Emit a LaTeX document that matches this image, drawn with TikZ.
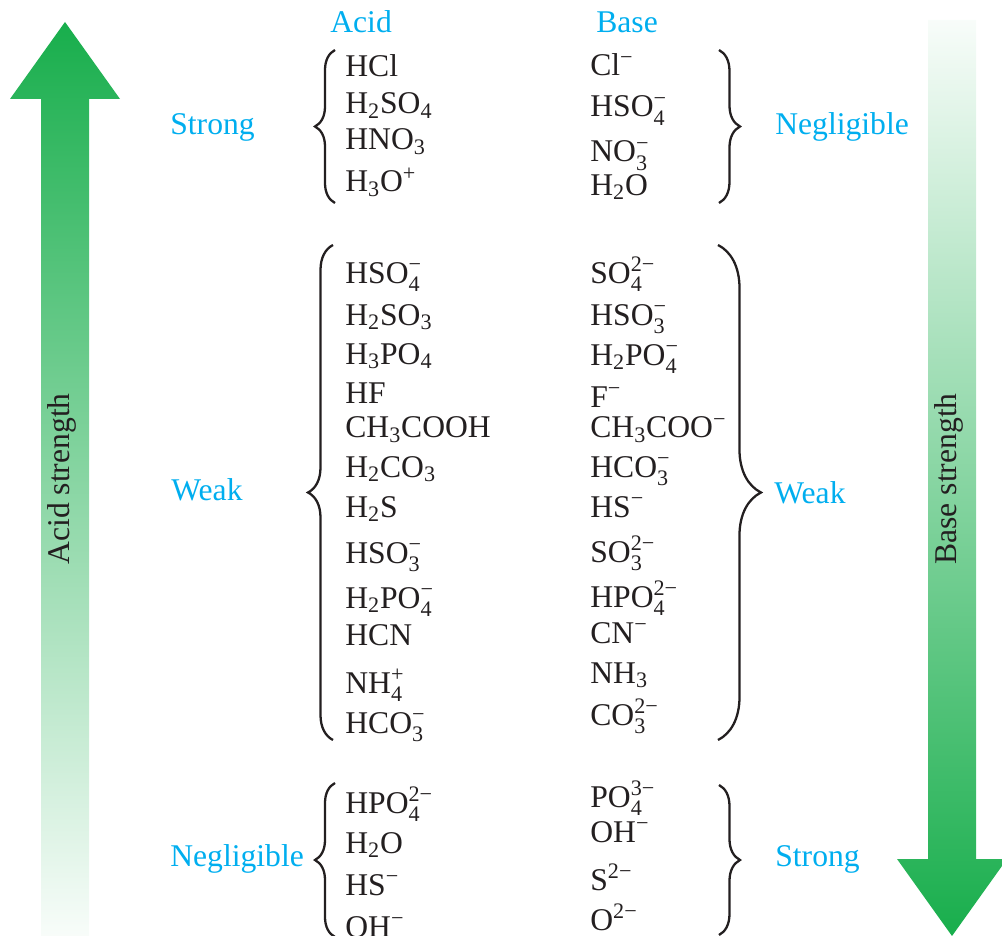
\documentclass[tikz,border=0pt]{standalone}
\usepackage{amsmath}
\usepackage{fontspec}
\setmainfont{Liberation Serif}
\usetikzlibrary{decorations.pathreplacing}

\definecolor{arrowgreen}{RGB}{24,174,76}
\definecolor{labelblue}{RGB}{0,174,239}
\definecolor{ink}{RGB}{35,31,32}

% stacked sub- and superscripts for the formulas
\newcommand\chsub[1]{${}_{\text{#1}}$}
\newcommand\chsup[1]{${}^{\text{#1}}$}
\newcommand\chss[2]{${}_{\text{#1}}^{\text{#2}}$}

\begin{document}
\begin{tikzpicture}[x=0.02cm,y=-0.02cm,
  every node/.style={font=\fontsize{18}{20}\selectfont, inner sep=0pt},
  formula/.style={anchor=base west, text=ink},
  tag/.style={anchor=base west, text=labelblue},
  curly/.style={decorate, decoration={brace, amplitude=#1}, line width=1.3pt, draw=ink}]
\useasboundingbox (0,0) rectangle (1002,936);
% Acid strength arrow, pointing up
\shade[top color=arrowgreen, middle color=arrowgreen!55, bottom color=arrowgreen!3]
  (41,936) -- (41,99) -- (10,99) -- (65,22) -- (120,99) -- (89,99) -- (89,936) -- cycle;
\node[rotate=90, text=ink] (acidstr) at (62,479) {Acid strength};
% Base strength arrow, pointing down
\shade[top color=arrowgreen!3, middle color=arrowgreen!55, bottom color=arrowgreen]
  (928,20) -- (976,20) -- (976,859) -- (1007,859) -- (952,936) -- (897,859) -- (928,859) -- cycle;
\node[rotate=90, text=ink] (basestr) at (949,479) {Base strength};
% Column heads
\node[tag] (acidhead) at (330,33) {Acid};
\node[tag] (basehead) at (596,33) {Base};
% Strong acids and their negligible bases
\node[tag] (strongacid) at (170,135) {Strong};
\node[formula] (sa1) at (345,77) {HCl};
\node[formula] (sa2) at (345,114) {H\chsub{2}SO\chsub{4}};
\node[formula] (sa3) at (345,150) {HNO\chsub{3}};
\node[formula] (sa4) at (345,192) {H\chsub{3}O\chsup{+}};
\node[formula] (nb1) at (590,76) {Cl\chsup{−}};
\node[formula] (nb2) at (590,117) {HSO\chss{4}{−}};
\node[formula] (nb3) at (590,162) {NO\chss{3}{−}};
\node[formula] (nb4) at (590,195) {H\chsub{2}O};
\node[tag] (negbase) at (775,135) {Negligible};
\coordinate (sl1) at (335,203);
\coordinate (sl2) at (335,50);
\coordinate (sr1) at (719,50);
\coordinate (sr2) at (719,203);
\draw[curly=0.4cm] (sl1) -- (sl2);
\draw[curly=0.42cm] (sr1) -- (sr2);
% Weak acids and their weak bases
\node[tag] (weakacid) at (171,500) {Weak};
\node[formula] (wa1) at (345,283) {HSO\chss{4}{−}};
\node[formula] (wa2) at (345,325) {H\chsub{2}SO\chsub{3}};
\node[formula] (wa3) at (345,364) {H\chsub{3}PO\chsub{4}};
\node[formula] (wa4) at (345,403) {HF};
\node[formula] (wa5) at (345,438) {CH\chsub{3}COOH};
\node[formula] (wa6) at (345,477) {H\chsub{2}CO\chsub{3}};
\node[formula] (wa7) at (345,517) {H\chsub{2}S};
\node[formula] (wa8) at (345,563) {HSO\chss{3}{−}};
\node[formula] (wa9) at (345,608) {H\chsub{2}PO\chss{4}{−}};
\node[formula] (wa10) at (345,645) {HCN};
\node[formula] (wa11) at (345,693) {NH\chss{4}{+}};
\node[formula] (wa12) at (345,733) {HCO\chss{3}{−}};
\node[formula] (wb1) at (590,283) {SO\chss{4}{2−}};
\node[formula] (wb2) at (590,325) {HSO\chss{3}{−}};
\node[formula] (wb3) at (590,365) {H\chsub{2}PO\chss{4}{−}};
\node[formula] (wb4) at (590,407) {F\chsup{−}};
\node[formula] (wb5) at (590,438) {CH\chsub{3}COO\chsup{−}};
\node[formula] (wb6) at (590,477) {HCO\chss{3}{−}};
\node[formula] (wb7) at (590,517) {HS\chsup{−}};
\node[formula] (wb8) at (590,562) {SO\chss{3}{2−}};
\node[formula] (wb9) at (590,607) {HPO\chss{4}{2−}};
\node[formula] (wb10) at (590,643) {CN\chsup{−}};
\node[formula] (wb11) at (590,683) {NH\chsub{3}};
\node[formula] (wb12) at (590,725) {CO\chss{3}{2−}};
\node[tag] (weakbase) at (774,503) {Weak};
\coordinate (wl1) at (333,740);
\coordinate (wl2) at (333,245);
\coordinate (wr1) at (718,245);
\coordinate (wr2) at (718,740);
\draw[curly=0.5cm] (wl1) -- (wl2);
\draw[curly=0.86cm] (wr1) -- (wr2);
% Negligible acids and their strong bases
\node[tag] (negacid) at (170,866) {Negligible};
\node[formula] (na1) at (345,813) {HPO\chss{4}{2−}};
\node[formula] (na2) at (345,853) {H\chsub{2}O};
\node[formula] (na3) at (345,895) {HS\chsup{−}};
\node[formula] (na4) at (345,937) {OH\chsup{−}};
\node[formula] (sb1) at (590,807) {PO\chss{4}{3−}};
\node[formula] (sb2) at (590,842) {OH\chsup{−}};
\node[formula] (sb3) at (590,890) {S\chsup{2−}};
\node[formula] (sb4) at (590,930) {O\chsup{2−}};
\node[tag] (strongbase) at (775,866) {Strong};
\coordinate (nl1) at (335,937);
\coordinate (nl2) at (335,783);
\coordinate (nr1) at (719,785);
\coordinate (nr2) at (719,935);
\draw[curly=0.4cm] (nl1) -- (nl2);
\draw[curly=0.42cm] (nr1) -- (nr2);
\end{tikzpicture}
\end{document}
